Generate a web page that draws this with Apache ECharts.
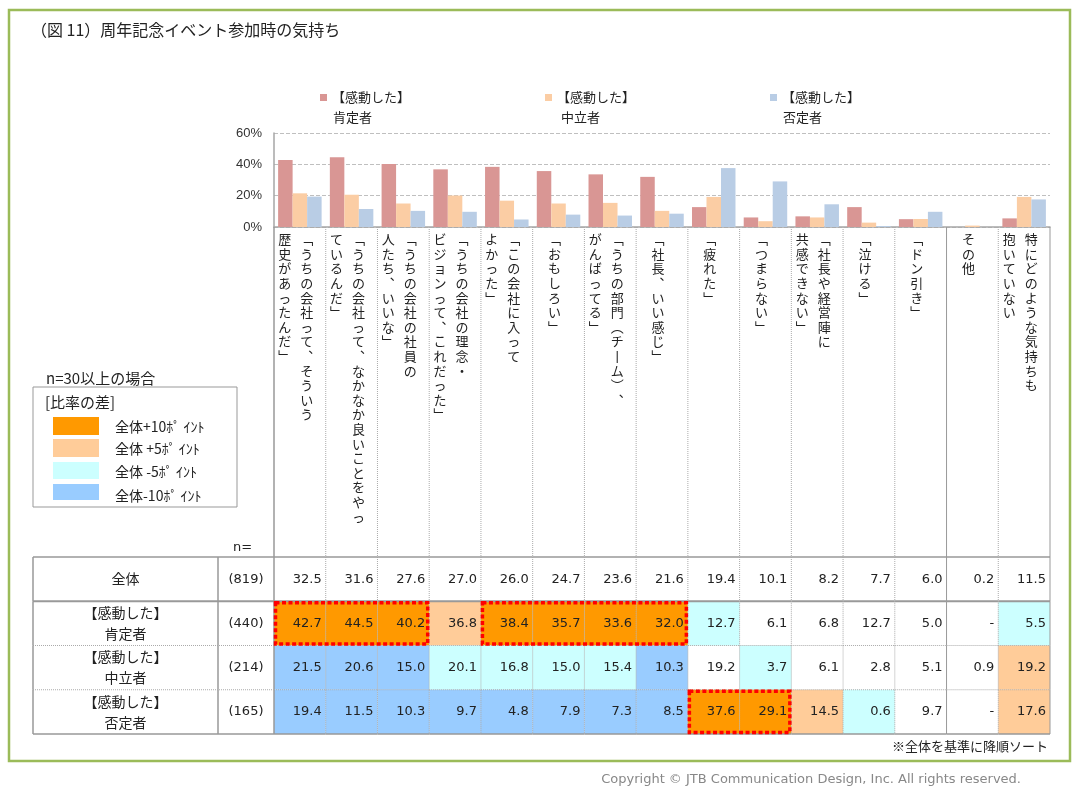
<!DOCTYPE html>
<html>
<head>
<meta charset="utf-8">
<title>周年記念イベント参加時の気持ち</title>
<script src="https://cdn.jsdelivr.net/npm/echarts@6/dist/echarts.min.js"></script>
<style>
html, body { margin: 0; padding: 0; background: #fff; }
#chart { width: 1077px; height: 799px; }
</style>
</head>
<body>
<div id="chart"></div>
<script>
// 項目（| の位置で縦書きの行を分ける）
var categories = [
    '「うちの会社って、そういう|歴史があったんだ」',
    '「うちの会社って、なかなか良いことをやっ|ているんだ」',
    '「うちの会社の社員の|人たち、いいな」',
    '「うちの会社の理念・|ビジョンって、これだった」',
    '「この会社に入って|よかった」',
    '「おもしろい」',
    '「うちの部門（チーム）、|がんばってる」',
    '「社長、いい感じ」',
    '「疲れた」',
    '「つまらない」',
    '「社長や経営陣に|共感できない」',
    '「泣ける」',
    '「ドン引き」',
    'その他',
    '特にどのような気持ちも|抱いていない'
];
var seriesNames = ['【感動した】肯定者', '【感動した】中立者', '【感動した】否定者'];
var rowNames = ['全体', '【感動した】\n肯定者', '【感動した】\n中立者', '【感動した】\n否定者'];
var rowN = ['(819)', '(440)', '(214)', '(165)'];

// 値（%）。null は「-」
var valTotal = [32.5, 31.6, 27.6, 27.0, 26.0, 24.7, 23.6, 21.6, 19.4, 10.1, 8.2, 7.7, 6.0, 0.2, 11.5];
var valPos   = [42.7, 44.5, 40.2, 36.8, 38.4, 35.7, 33.6, 32.0, 12.7, 6.1, 6.8, 12.7, 5.0, null, 5.5];
var valNeu   = [21.5, 20.6, 15.0, 20.1, 16.8, 15.0, 15.4, 10.3, 19.2, 3.7, 6.1, 2.8, 5.1, 0.9, 19.2];
var valNeg   = [19.4, 11.5, 10.3, 9.7, 4.8, 7.9, 7.3, 8.5, 37.6, 29.1, 14.5, 0.6, 9.7, null, 17.6];

// 赤い点線で囲むセル：行・開始列・終了列
var boxRow  = [1, 1, 3];
var boxFrom = [0, 4, 8];
var boxTo   = [2, 7, 9];

var yMin = 0, yMax = 60, yStep = 20;

var JP = '"Noto Sans CJK JP", sans-serif';
var NUM = '"DejaVu Sans", "Noto Sans CJK JP", sans-serif';
var barColors = ['#D99694', '#FBCDA4', '#B9CDE5'];
var diffColors = { p10: '#FF9900', p5: '#FFCC99', m5: '#CCFFFF', m10: '#99CCFF' };

var tableRows = [valTotal, valPos, valNeu, valNeg];

function cellColor(r, c) {
    if (r == 0) return null;
    var v = tableRows[r][c];
    if (v == null) return null;
    var d = v - valTotal[c];
    if (d >= 10) return diffColors.p10;
    if (d >= 5) return diffColors.p5;
    if (d <= -10) return diffColors.m10;
    if (d <= -5) return diffColors.m5;
    return null;
}

// 縦書き用の文字
var vertMap = { '「': '﹁', '」': '﹂', '、': '︑', '（': '︵', '）': '︶', 'ー': '丨' };
function toVertical(s) {
    return s.split('').map(function (ch) { return vertMap[ch] || ch; }).join('\n');
}

var tableData = [];
for (var r = 0; r < 4; r++) {
    for (var c = 0; c < categories.length; c++) {
        tableData.push([c, r]);
    }
}

function renderLabel(params, api) {
    var i = api.value(0);
    var top = api.coord([i, 1]);
    var bottom = api.coord([i, 0]);
    var w = api.size([1, 1])[0];
    var lines = categories[i].split('|');
    var children = [];
    lines.forEach(function (line, k) {
        children.push({
            type: 'text',
            style: {
                text: toVertical(line),
                x: top[0] - 4 + (lines.length - 1) * 11 - k * 22,
                y: top[1] + 5,
                align: 'center',
                verticalAlign: 'top',
                fontSize: 13,
                fontFamily: JP,
                lineHeight: 14.6,
                fill: '#222'
            }
        });
    });
    var solid = (i == 12 || i == 14);
    var xr = top[0] + w / 2;
    children.push({
        type: 'line',
        shape: { x1: xr, y1: top[1], x2: xr, y2: bottom[1] },
        style: { stroke: solid ? '#999' : '#AAA', lineWidth: 1, lineDash: solid ? null : [1, 1] }
    });
    if (i == 0) {
        children.push({
            type: 'line',
            shape: { x1: top[0] - w / 2, y1: top[1], x2: top[0] - w / 2, y2: bottom[1] },
            style: { stroke: '#999', lineWidth: 1.5 }
        });
    }
    return { type: 'group', children: children };
}

function renderCell(params, api) {
    var c = api.value(0), r = api.value(1);
    var pt = api.coord([c, r]);
    var size = api.size([1, 1]);
    var w = size[0], h = size[1];
    var x0 = pt[0] - w / 2, y0 = pt[1] - h / 2;
    var v = tableRows[r][c];
    var children = [];
    var fill = cellColor(r, c);
    if (fill) {
        children.push({ type: 'rect', shape: { x: x0, y: y0, width: w, height: h }, style: { fill: fill } });
    }
    children.push({
        type: 'text',
        style: {
            text: v == null ? '-' : v.toFixed(1),
            x: x0 + w - 4, y: pt[1],
            align: 'right', verticalAlign: 'middle',
            fontSize: 13, fontFamily: NUM, fill: '#222'
        }
    });
    return { type: 'group', children: children };
}

function renderBorder(params, api) {
    var c = api.value(0), r = api.value(1);
    var pt = api.coord([c, r]);
    var size = api.size([1, 1]);
    var w = size[0], h = size[1];
    var x0 = pt[0] - w / 2, y0 = pt[1] - h / 2;
    var children = [];
    var solid = (c == 12 || c == 14);
    children.push({
        type: 'line',
        shape: { x1: x0 + w, y1: y0, x2: x0 + w, y2: y0 + h },
        style: { stroke: solid ? '#999' : '#AAA', lineWidth: 1, lineDash: solid ? null : [1, 1] }
    });
    if (c == 0) {
        children.push({
            type: 'line',
            shape: { x1: x0, y1: y0, x2: x0, y2: y0 + h },
            style: { stroke: '#999', lineWidth: 1.5 }
        });
    }
    var bottomSolid = (r == 0 || r == 3);
    children.push({
        type: 'line',
        shape: { x1: x0, y1: y0 + h, x2: x0 + w, y2: y0 + h },
        style: { stroke: bottomSolid ? '#999' : '#AAA', lineWidth: r == 0 ? 2 : (bottomSolid ? 1.5 : 1), lineDash: bottomSolid ? null : [1, 1] }
    });
    if (r == 0) {
        children.push({
            type: 'line',
            shape: { x1: x0, y1: y0, x2: x0 + w, y2: y0 },
            style: { stroke: '#999', lineWidth: 1.5 }
        });
    }
    return { type: 'group', children: children };
}

// 表の左側（区分名・n）
function renderRowHead(params, api) {
    var r = api.value(1);
    var pt = api.coord([0, r]);
    var h = api.size([1, 1])[1];
    var gx = params.coordSys.x;
    var y0 = pt[1] - h / 2;
    var left = gx - 241, mid = gx - 56;
    var children = [
        {
            type: 'text',
            style: {
                text: rowNames[r], x: (left + mid) / 2, y: pt[1],
                align: 'center', verticalAlign: 'middle',
                fontSize: 14, fontFamily: JP, lineHeight: 21, fill: '#222'
            }
        },
        {
            type: 'text',
            style: {
                text: rowN[r], x: (mid + gx) / 2, y: pt[1],
                align: 'center', verticalAlign: 'middle',
                fontSize: 13, fontFamily: NUM, fill: '#222'
            }
        },
        { type: 'line', shape: { x1: left, y1: y0, x2: left, y2: y0 + h }, style: { stroke: '#999', lineWidth: 1.5 } },
        { type: 'line', shape: { x1: mid, y1: y0, x2: mid, y2: y0 + h }, style: { stroke: '#999', lineWidth: 1.5 } }
    ];
    var bottomSolid = (r == 0 || r == 3);
    children.push({
        type: 'line',
        shape: { x1: left, y1: y0 + h, x2: gx, y2: y0 + h },
        style: { stroke: bottomSolid ? '#999' : '#AAA', lineWidth: r == 0 ? 2 : (bottomSolid ? 1.5 : 1), lineDash: bottomSolid ? null : [1, 1] }
    });
    if (r == 0) {
        children.push({ type: 'line', shape: { x1: left, y1: y0, x2: gx, y2: y0 }, style: { stroke: '#999', lineWidth: 1.5 } });
    }
    return { type: 'group', children: children };
}

function renderBox(params, api) {
    var r = api.value(1);
    var p0 = api.coord([api.value(0), r]);
    var p1 = api.coord([api.value(2), r]);
    var size = api.size([1, 1]);
    var w = size[0], h = size[1];
    return {
        type: 'rect',
        shape: {
            x: p0[0] - w / 2 + 1.5,
            y: p0[1] - h / 2 + 1.5,
            width: p1[0] - p0[0] + w - 3,
            height: h - 3
        },
        style: { fill: 'none', stroke: '#FF0000', lineWidth: 3.5, lineDash: [4, 2.5] }
    };
}

var boxData = boxRow.map(function (r, i) { return [boxFrom[i], r, boxTo[i]]; });

var option = {
    animation: false,
    backgroundColor: '#fff',
    legend: {
        left: 315,
        top: 86,
        itemWidth: 7,
        itemHeight: 7,
        itemGap: 135,
        icon: 'rect',
        data: seriesNames,
        formatter: function (name) { return name.slice(0, 6); },
        textStyle: { fontSize: 13, fontFamily: JP, color: '#222' }
    },
    grid: [
        { left: 274, top: 133, width: 776, height: 94 },
        { left: 274, top: 227, width: 776, height: 330 },
        { left: 274, top: 557, width: 776, height: 177 }
    ],
    xAxis: [
        {
            gridIndex: 0, type: 'category', data: categories,
            axisLine: { lineStyle: { color: '#A6A6A6', width: 1.5 } },
            axisTick: { show: false }, axisLabel: { show: false }
        },
        { gridIndex: 1, type: 'category', data: categories, show: false },
        { gridIndex: 2, type: 'category', data: categories, show: false }
    ],
    yAxis: [
        {
            gridIndex: 0, type: 'value', min: yMin, max: yMax, interval: yStep,
            axisLine: { show: true, lineStyle: { color: '#A6A6A6', width: 1.5 } },
            axisTick: { show: false },
            axisLabel: { formatter: '{value}%', fontSize: 13, fontFamily: '"Liberation Sans", Arial, sans-serif', color: '#333', margin: 12 },
            splitLine: { lineStyle: { type: 'dashed', color: '#BFBFBF' } }
        },
        { gridIndex: 1, type: 'value', min: 0, max: 1, show: false },
        { gridIndex: 2, type: 'category', data: [0, 1, 2, 3], inverse: true, show: false }
    ],
    series: [
        { name: seriesNames[0], type: 'bar', data: valPos, barWidth: 14.5, barGap: '0%', itemStyle: { color: barColors[0] } },
        { name: seriesNames[1], type: 'bar', data: valNeu, barWidth: 14.5, barGap: '0%', itemStyle: { color: barColors[1] } },
        { name: seriesNames[2], type: 'bar', data: valNeg, barWidth: 14.5, barGap: '0%', itemStyle: { color: barColors[2] } },
        {
            type: 'custom', xAxisIndex: 1, yAxisIndex: 1,
            data: categories.map(function (c, i) { return [i, 1]; }),
            renderItem: renderLabel, silent: true
        },
        {
            type: 'custom', xAxisIndex: 2, yAxisIndex: 2, z: 2,
            data: tableData, encode: { x: 0, y: 1 },
            renderItem: renderCell, silent: true
        },
        {
            type: 'custom', xAxisIndex: 2, yAxisIndex: 2, z: 3,
            data: tableData, encode: { x: 0, y: 1 },
            renderItem: renderBorder, silent: true
        },
        {
            type: 'custom', xAxisIndex: 2, yAxisIndex: 2, z: 3,
            data: rowNames.map(function (n, i) { return [0, i]; }), encode: { x: 0, y: 1 },
            renderItem: renderRowHead, silent: true
        },
        {
            type: 'custom', xAxisIndex: 2, yAxisIndex: 2, z: 4,
            data: boxData, encode: { x: [0, 2], y: 1 },
            renderItem: renderBox, silent: true
        }
    ],
    graphic: [
        { type: 'rect', shape: { x: 9, y: 10, width: 1061, height: 751 }, style: { fill: 'none', stroke: '#9BBB59', lineWidth: 2.5 } },
        { type: 'text', x: 31, y: 30, style: { text: '（図 11）周年記念イベント参加時の気持ち', fontSize: 16, fontFamily: JP, fill: '#222', verticalAlign: 'middle' } },
        { type: 'text', x: 333, y: 117, style: { text: '肯定者', fontSize: 13, fontFamily: JP, fill: '#222', verticalAlign: 'middle' } },
        { type: 'text', x: 561, y: 117, style: { text: '中立者', fontSize: 13, fontFamily: JP, fill: '#222', verticalAlign: 'middle' } },
        { type: 'text', x: 783, y: 117, style: { text: '否定者', fontSize: 13, fontFamily: JP, fill: '#222', verticalAlign: 'middle' } },
        // 比率の差の凡例
        { type: 'text', x: 46, y: 378, style: { text: 'n=30以上の場合', fontSize: 15, fontFamily: JP, fill: '#222', verticalAlign: 'middle' } },
        { type: 'rect', shape: { x: 33, y: 387, width: 204, height: 120 }, style: { fill: '#fff', stroke: '#999', lineWidth: 1 } },
        { type: 'text', x: 45, y: 402, style: { text: '[比率の差]', fontSize: 15, fontFamily: JP, fill: '#222', verticalAlign: 'middle' } },
        { type: 'rect', shape: { x: 53, y: 417, width: 46, height: 18 }, style: { fill: diffColors.p10 } },
        { type: 'rect', shape: { x: 53, y: 439, width: 46, height: 18 }, style: { fill: diffColors.p5 } },
        { type: 'rect', shape: { x: 53, y: 462, width: 46, height: 17 }, style: { fill: diffColors.m5 } },
        { type: 'rect', shape: { x: 53, y: 484, width: 46, height: 16 }, style: { fill: diffColors.m10 } },
        { type: 'text', x: 115, y: 427, style: { text: '全体+10ﾎﾟ ｲﾝﾄ', fontSize: 14, fontFamily: JP, fill: '#222', verticalAlign: 'middle' } },
        { type: 'text', x: 115, y: 449, style: { text: '全体 +5ﾎﾟ ｲﾝﾄ', fontSize: 14, fontFamily: JP, fill: '#222', verticalAlign: 'middle' } },
        { type: 'text', x: 115, y: 472, style: { text: '全体 -5ﾎﾟ ｲﾝﾄ', fontSize: 14, fontFamily: JP, fill: '#222', verticalAlign: 'middle' } },
        { type: 'text', x: 115, y: 496, style: { text: '全体-10ﾎﾟ ｲﾝﾄ', fontSize: 14, fontFamily: JP, fill: '#222', verticalAlign: 'middle' } },
        { type: 'text', x: 233, y: 548, style: { text: 'n=', fontSize: 13, fontFamily: NUM, fill: '#222', verticalAlign: 'middle' } },
        { type: 'text', x: 1048, y: 746, style: { text: '※全体を基準に降順ソート', fontSize: 13, fontFamily: JP, fill: '#222', align: 'right', verticalAlign: 'middle' } },
        { type: 'text', x: 1021, y: 780, style: { text: 'Copyright © JTB Communication Design, Inc. All rights reserved.', fontSize: 13, fontFamily: NUM, fill: '#888', align: 'right', verticalAlign: 'middle' } }
    ]
};

var myChart = echarts.init(document.getElementById('chart'));
myChart.setOption(option);
</script>
</body>
</html>
